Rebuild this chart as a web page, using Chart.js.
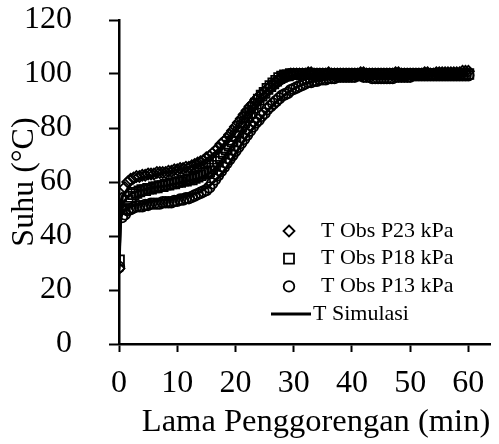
<!DOCTYPE html>
<html>
<head>
<meta charset="utf-8">
<script src="https://cdn.jsdelivr.net/npm/chart.js@4.4.1/dist/chart.umd.min.js"></script>
<style>
  body { margin: 0; background: #fff; }
  canvas { display: block; }
</style>
</head>
<body>
<canvas id="chart" width="499" height="444"></canvas>
<script>
// observation time (min), every 30 s
const obsTime = [
  0,0.5,1,1.5,2,2.5,3,3.5,4,4.5, 5,5.5,6,6.5,7,7.5,8,8.5,9,9.5,
  10,10.5,11,11.5,12,12.5,13,13.5,14,14.5, 15,15.5,16,16.5,17,17.5,18,18.5,19,19.5,
  20,20.5,21,21.5,22,22.5,23,23.5,24,24.5, 25,25.5,26,26.5,27,27.5,28,28.5,29,29.5,
  30,30.5,31,31.5,32,32.5,33,33.5,34,34.5, 35,35.5,36,36.5,37,37.5,38,38.5,39,39.5,
  40,40.5,41,41.5,42,42.5,43,43.5,44,44.5, 45,45.5,46,46.5,47,47.5,48,48.5,49,49.5,
  50,50.5,51,51.5,52,52.5,53,53.5,54,54.5, 55,55.5,56,56.5,57,57.5,58,58.5,59,59.5,
  60];

const obsP23 = [
  28,54,58,60,61,61.5,62,62,62.5,62.5, 63,63,63,63.5,63.5,63.5,63.5,64,64,64.5,
  64.5,65,65,65.5,65.5,66,66.5,67,67.5,68, 69,69.5,70.5,71.5,72.5,74,75,76,77.5,79,
  80.5,82,83.5,85,86.5,88,89,90.5,91.5,92.5, 93.5,94.5,95.5,96.5,97,98,98.5,99,99.5,100,
  100,100,100,100,100,100.5,100.5,100,100,100, 100,100,100.5,100,100,100,100,100,100,100,
  100,100,100,100.5,100.5,100,100,100,100,100, 100,100,100,100,100,100.5,100.5,100,100,100,
  100,100,100,100,100,100.5,100.5,100,100,100.5, 100.5,100.5,100.5,100.5,100.5,100.5,100.5,100.5,101,101,
  101];

const obsP18 = [
  31,50,50,53,54.5,55.5,56,56.5,57,57, 57.5,57.5,58,58,58.5,58.5,59,59,59.5,59.5,
  60,60,60.5,60.5,61,61,61.5,62,62.5,63, 63.5,64,65,66,67.5,69,70.5,72,73.5,75,
  77,78.5,80.5,82,84,85.5,87.5,89,90.5,92, 93,94.5,95.5,96.5,97.5,98.5,99,99.5,99.5,100,
  100,100,100,100,100,100,100,100,100,100, 100,100,100,100,100,100,100,100,100,100,
  100,100,100,100,100,100,100,100,100,100, 100,100,100,100,100,100,100,100,100,100,
  100,100,100,100,100,100,100,100,100,100, 100,100,100,100,100,100,100,100,100,100,
  100];

const obsP13 = [
  28.5,47,48,49.5,50,50.5,51,51,51,51.5, 51.5,52,52,52,52,52.5,52.5,52.5,52.5,53,
  53,53.5,53.5,54,54,54.5,55,55.5,56,56.5, 57,58,59.5,61,62.5,64,65.5,67,68.5,70,
  71.5,73,74.5,76,77.5,79,80.5,82,83,84.5, 85.5,87,88,89,90,91,92,92.5,93,94,
  94.5,95,95.5,96,96.5,97,97,97.5,97.5,98, 98,98,98.5,98.5,98.5,99,99,99,99,99,
  99,99,99.5,99.5,99,99,99,98.5,98.5,98.5, 98.5,98.5,98.5,98.5,98.5,99,99,99,99,99,
  99,99.5,99.5,99.5,99.5,99.5,99.5,99.5,99.5,99.5, 99.5,99.5,99.5,99.5,99.5,99.5,99.5,99.5,99.5,99.5,
  99.5];

// simulation curves
const simTime = [0,0.3,1,2,3,4,5,6,8,10,12,14,16,18,20,22,24,26,28,30,32,35,40,45,50,55,60];
const simP23 = [29,52,56,59,60.5,61.5,62,62.5,63.5,64.5,65.5,67,70,74,79.5,85.5,91,95,98,99.5,100,100,100,100,100,100,100.5];
const simP18 = [30,48,53,55.5,56.5,57,57.5,58,58.5,59.5,60.5,61.5,64,69,75.5,82.5,88.5,93,96.5,98.5,99.5,100,100,100,100,100,100];
const simP13 = [28,46,49.5,51,51.5,52,52.5,53,53.5,54,55,56.5,59.5,64,70.5,77,82.5,87.5,91.5,94.5,96.5,98,99,99.3,99.5,99.5,99.5];

const xTicks = [0,10,20,30,40,50,60];
const yTicks = [0,20,40,60,80,100,120];

const serif = "'Liberation Serif', 'Times New Roman', serif";

function pts(xs, ys) {
  return xs.map((x, i) => ({ x: x, y: ys[i] }));
}

function obsSet(label, ys, style, r) {
  return {
    label: label,
    data: pts(obsTime, ys),
    showLine: false,
    pointStyle: style,
    pointRadius: r,
    pointBorderWidth: 1.8,
    pointBorderColor: "#000",
    pointBackgroundColor: "rgba(0,0,0,0)",
    order: 2
  };
}

function simSet(ys) {
  return {
    label: "T Simulasi",
    data: pts(simTime, ys),
    showLine: true,
    borderColor: "#000",
    borderWidth: 3,
    pointRadius: 0,
    cubicInterpolationMode: "monotone",
    order: 1
  };
}

/** legend drawn inside the plot area **/
const legendPlugin = {
  id: "innerLegend",
  afterDraw(chart) {
    const ctx = chart.ctx;
    const ds = chart.data.datasets;
    const items = [
      { type: "rectRot", text: ds[0].label },
      { type: "rect", text: ds[1].label },
      { type: "circle", text: ds[2].label },
      { type: "line", text: ds[3].label }
    ];
    const mx = 289, tx = 321, y0 = 231, dy = 27.7;
    ctx.save();
    ctx.font = "22px " + serif;
    ctx.fillStyle = "#000";
    ctx.strokeStyle = "#000";
    ctx.textBaseline = "middle";
    items.forEach((it, i) => {
      const y = y0 + i * dy;
      ctx.lineWidth = 1.8;
      ctx.beginPath();
      if (it.type === "rectRot") {
        ctx.moveTo(mx, y - 5.5); ctx.lineTo(mx + 5.5, y); ctx.lineTo(mx, y + 5.5); ctx.lineTo(mx - 5.5, y); ctx.closePath();
        ctx.stroke();
        ctx.fillText(it.text, tx, y);
      } else if (it.type === "rect") {
        ctx.rect(mx - 5, y - 5, 10, 10);
        ctx.stroke();
        ctx.fillText(it.text, tx, y);
      } else if (it.type === "circle") {
        ctx.arc(mx, y, 5.3, 0, Math.PI * 2);
        ctx.stroke();
        ctx.fillText(it.text, tx, y);
      } else {
        ctx.lineWidth = 3;
        ctx.moveTo(271, y); ctx.lineTo(311, y);
        ctx.stroke();
        ctx.fillText(it.text, 313, y);
      }
    });
    ctx.restore();
  }
};

new Chart(document.getElementById("chart"), {
  type: "scatter",
  data: {
    datasets: [
      obsSet("T Obs P23 kPa", obsP23, "rectRot", 5.5),
      obsSet("T Obs P18 kPa", obsP18, "rect", 7),
      obsSet("T Obs P13 kPa", obsP13, "circle", 5.3),
      simSet(simP23),
      simSet(simP18),
      simSet(simP13)
    ]
  },
  options: {
    responsive: false,
    animation: false,
    layout: { padding: { top: 20, right: 6, left: 0, bottom: 0 } },
    plugins: {
      legend: { display: false },
      tooltip: { enabled: false }
    },
    scales: {
      x: {
        type: "linear",
        min: 0,
        max: 63.75,
        afterBuildTicks: s => { s.ticks = xTicks.map(v => ({ value: v })); },
        afterFit: s => { s.height = 100; s.paddingLeft = 0; s.paddingRight = 0; },
        border: { display: true, color: "#000", width: 2.5 },
        grid: { drawOnChartArea: false, drawTicks: true, tickLength: 8, tickWidth: 2, color: "#000" },
        ticks: { color: "#000", padding: 12, maxRotation: 0, font: { family: serif, size: 32 } },
        title: {
          display: true,
          align: "end",
          text: "Lama Penggorengan (min)",
          color: "#000",
          font: { family: serif, size: 32.5 },
          padding: { top: 0, bottom: 2 }
        }
      },
      y: {
        type: "linear",
        min: 0,
        max: 120,
        afterBuildTicks: s => { s.ticks = yTicks.map(v => ({ value: v })); },
        afterFit: s => { s.width = 119; s.paddingTop = 0; s.paddingBottom = 0; },
        border: { display: true, color: "#000", width: 2.5 },
        grid: { drawOnChartArea: false, drawTicks: true, tickLength: 10, tickWidth: 2, color: "#000" },
        ticks: { color: "#000", padding: 37, font: { family: serif, size: 32 } },
        title: {
          display: true,
          text: "Suhu (°C)",
          color: "#000",
          font: { family: serif, size: 32 },
          padding: { top: 5, bottom: 0 }
        }
      }
    }
  },
  plugins: [legendPlugin]
});
</script>
</body>
</html>
